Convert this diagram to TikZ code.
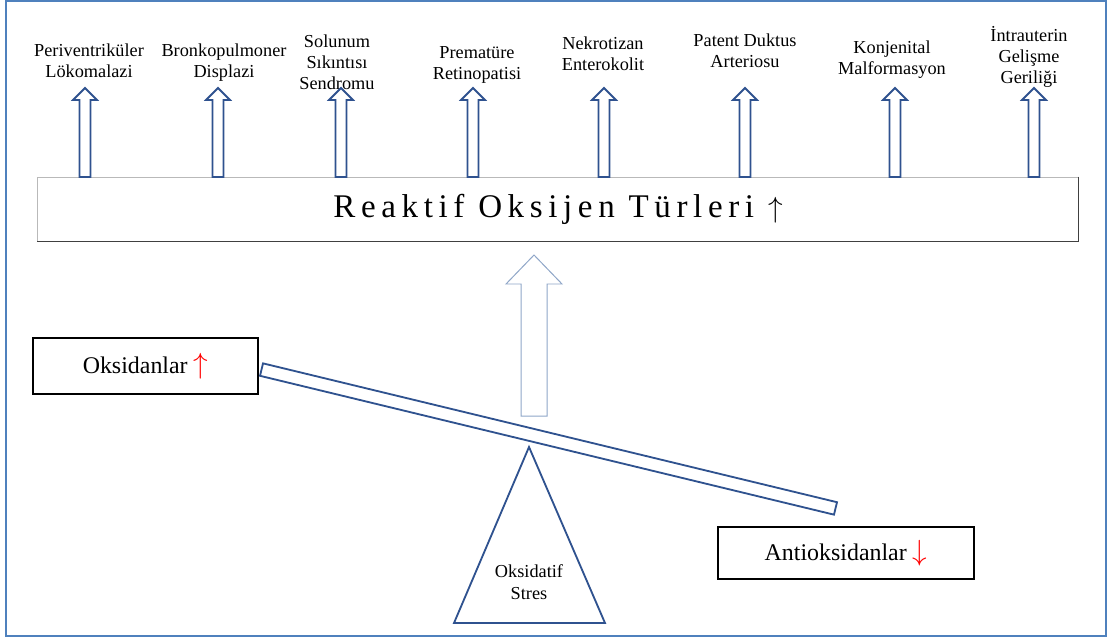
\documentclass[tikz,border=0pt]{standalone}
\usepackage{fontspec}
\setmainfont{Liberation Serif}
\newfontfamily\spacedfont[LetterSpace=17]{Liberation Serif}

\definecolor{framecol}{RGB}{79,129,189}
\definecolor{arrowcol}{RGB}{47,82,143}
\definecolor{bigarrowcol}{RGB}{143,166,200}

\newcommand{\redup}{\textcolor{red}{\fontsize{20}{20}\selectfont$\uparrow$}}
\newcommand{\reddown}{\textcolor{red}{\fontsize{20}{20}\selectfont$\downarrow$}}

\tikzset{
    pics/hollowup/.style n args={4}{code={
        \draw[pic actions] (-#2,0) -- (-#2,{-#1+#4}) -- (-#3,{-#1+#4}) -- (0,-#1)
            -- (#3,{-#1+#4}) -- (#2,{-#1+#4}) -- (#2,0) -- cycle;
    }},
    lbl/.style={align=center, font=\fontsize{13}{15}\selectfont, inner sep=0pt},
    smallarrow/.style={draw=arrowcol, line width=1.3pt, fill=white, line join=miter},
    sidebox/.style={rectangle, draw=black, line width=0.8pt, font=\fontsize{17}{20}\selectfont},
}

\begin{document}
\begin{tikzpicture}[x=0.025cm, y=-0.025cm]
    \useasboundingbox (0,0) rectangle (1109,639);
    \draw[framecol, line width=1.4pt] (6,1) rectangle (1106,636);

    \node[rectangle, draw=gray!55, line width=0.6pt, minimum width=26cm, minimum height=1.6cm, font=\spacedfont\fontsize{23.5}{28}\selectfont] (ros) at (558,209) {Reaktif Oksijen Türleri {\fontsize{20}{20}\selectfont$\uparrow$}};
    \draw[black!75, line width=0.9pt] (ros.north east) -- (ros.south east) -- (ros.south west);

    \node[lbl] (pvl) at (89,61) {Periventriküler\\Lökomalazi};
    \node[lbl] (bpd) at (224,63) {Bronkopulmoner\\Displazi};
    \node[lbl] (sss) at (337,62) {Solunum\\Sıkıntısı\\Sendromu};
    \node[lbl] (rop) at (477,65) {Prematüre\\Retinopatisi};
    \node[lbl] (nec) at (603,54) {Nekrotizan\\Enterokolit};
    \node[lbl] (pda) at (745,51) {Patent Duktus\\Arteriosu};
    \node[lbl] (km) at (892,60) {Konjenital\\Malformasyon};
    \node[lbl] (igg) at (1029,57) {İntrauterin\\Gelişme\\Geriliği};

    \pic[smallarrow] at (85,177) {hollowup={89}{5.5}{12}{12}};
    \pic[smallarrow] at (218,177) {hollowup={89}{5.5}{12}{12}};
    \pic[smallarrow] at (341,177) {hollowup={89}{5.5}{12}{12}};
    \pic[smallarrow] at (473,177) {hollowup={89}{5.5}{12}{12}};
    \pic[smallarrow] at (604,177) {hollowup={89}{5.5}{12}{12}};
    \pic[smallarrow] at (745,177) {hollowup={89}{5.5}{12}{12}};
    \pic[smallarrow] at (895,177) {hollowup={89}{5.5}{12}{12}};
    \pic[smallarrow] at (1034,177) {hollowup={89}{5.5}{12}{12}};

    % big arrow from the balance up to ROS
    \pic[draw=bigarrowcol, line width=0.7pt, fill=white] at (534,416) {hollowup={161}{13}{28}{29}};

    \node[sidebox, minimum width=5.625cm, minimum height=1.4cm] (oks) at (145.5,366) {Oksidanlar \redup};
    \node[sidebox, minimum width=6.4cm, minimum height=1.3cm] (antioks) at (846,553) {Antioksidanlar \reddown};

    \node[rectangle, draw=arrowcol, line width=1.3pt, rotate=-13.6, minimum width=14.76cm, minimum height=0.32cm] (beam) at (548.5,439) {};

    \coordinate (apex) at (529,447);
    \coordinate (bl) at (454,623);
    \coordinate (br) at (605,623);
    \draw[arrowcol, line width=1.3pt, line join=miter] (apex) -- (bl) -- (br) -- cycle;
    \node[lbl, font=\fontsize{13}{15.5}\selectfont] (ostres) at (529,582) {Oksidatif\\Stres};
\end{tikzpicture}
\end{document}
